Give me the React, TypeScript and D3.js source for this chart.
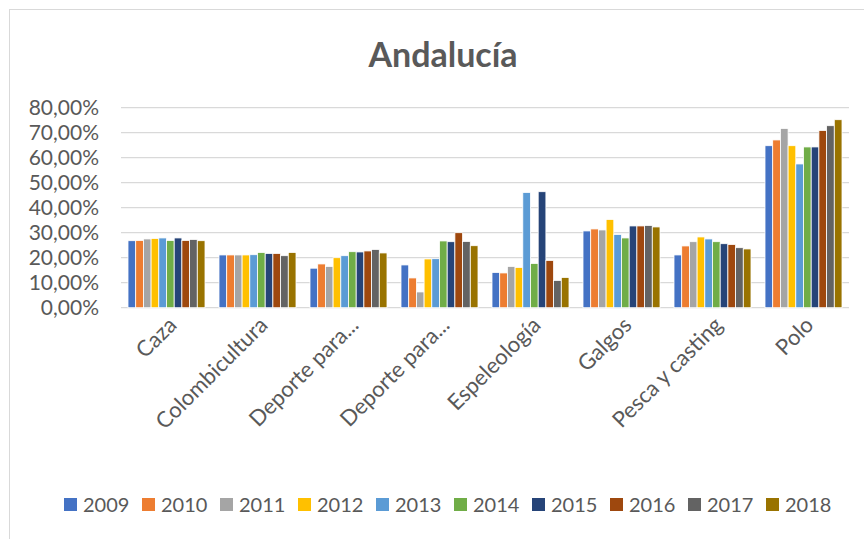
import React from "react";
import * as d3 from "d3";

const categories = ["Caza", "Colombicultura", "Deporte para...", "Deporte para...", "Espeleología", "Galgos", "Pesca y casting", "Polo"];
const years = ["2009", "2010", "2011", "2012", "2013", "2014", "2015", "2016", "2017", "2018"];
const colors = ["#4472C4", "#ED7D31", "#A5A5A5", "#FFC000", "#5B9BD5", "#70AD47", "#264478", "#9E480E", "#636363", "#997300"];

// values in percent, one array per category (2009..2018)
const caza = [26.8, 26.9, 27.5, 27.7, 27.9, 26.9, 27.9, 26.9, 27.3, 26.8];
const colombicultura = [21.1, 21.1, 21.1, 21.1, 21.2, 22.1, 21.7, 21.7, 20.8, 22.1];
const deporte1 = [15.8, 17.5, 16.5, 20.0, 20.8, 22.4, 22.3, 22.7, 23.3, 21.9];
const deporte2 = [17.1, 11.9, 6.3, 19.5, 19.6, 26.7, 26.4, 30.0, 26.5, 24.8];
const espeleologia = [14.1, 13.9, 16.5, 16.1, 46.1, 17.7, 46.4, 18.9, 10.9, 12.1];
const galgos = [30.7, 31.5, 31.1, 35.3, 29.3, 27.9, 32.7, 32.7, 32.9, 32.3];
const pesca = [21.1, 24.7, 26.4, 28.3, 27.5, 26.4, 25.6, 25.3, 24.0, 23.5];
const polo = [64.8, 67.1, 71.7, 64.8, 57.5, 64.3, 64.3, 70.9, 72.8, 75.2];
const values = [caza, colombicultura, deporte1, deporte2, espeleologia, galgos, pesca, polo];
const yTicks = [0, 10, 20, 30, 40, 50, 60, 70, 80];

const W = 864;
const H = 539;
const FONT = "Lato, 'Liberation Sans', sans-serif";
const TXT = "#595959";

export default function App() {
  const left = 121, right = 849, top = 107.7, bottom = 307.7;
  const x0 = d3.scaleBand<number>().domain(d3.range(categories.length)).range([left, right]).paddingInner(0.154).paddingOuter(0.077);
  const x1 = d3.scaleBand<number>().domain(d3.range(years.length)).range([0, x0.bandwidth()]).padding(0);
  const y = d3.scaleLinear().domain([0, 80]).range([bottom, top]);
  const xc = d3.scaleBand<number>().domain(d3.range(categories.length)).range([left, right]);
  const fmt = (v: number) => v.toFixed(2).replace(".", ",") + "%";
  const legendStart = 64;
  const legendStep = 78;

  return (
    <svg width={W} height={H} style={{ position: "absolute", left: 0, top: 0, background: "#fff" }}>
      <rect x={9.5} y={9.5} width={W + 20} height={H + 20} fill="#fff" stroke="#d9d9d9" strokeWidth={1} />
      <text x={443} y={67} textAnchor="middle" fontFamily={FONT} fontWeight="bold" fontSize={34} fill={TXT}>Andalucía</text>
      {yTicks.map((t) => (
        <g key={t}>
          <line x1={left} x2={right} y1={y(t)} y2={y(t)} stroke="#d9d9d9" strokeWidth={1.2} />
          <text x={99} y={y(t)} dy="0.36em" textAnchor="end" fontFamily={FONT} fontSize={21} fill={TXT}>{fmt(t)}</text>
        </g>
      ))}
      {values.map((arr, ci) => (
        <g key={ci} transform={`translate(${x0(ci)},0)`}>
          {arr.map((v, si) => (
            <rect key={si} x={x1(si)} y={y(v)} width={x1.bandwidth()} height={y(0) - y(v)} fill={colors[si]} stroke="#fff" strokeWidth={0.8} />
          ))}
        </g>
      ))}
      {categories.map((c, ci) => {
        const cx = (xc(ci) as number) + xc.bandwidth() / 2;
        return (
          <text key={ci} transform={`translate(${cx + 6},${321}) rotate(-45)`} textAnchor="end" dy="0.35em" fontFamily={FONT} fontSize={22} fill={TXT}>{c}</text>
        );
      })}
      {years.map((yr, i) => (
        <g key={yr} transform={`translate(${legendStart + i * legendStep},0)`}>
          <rect x={0} y={498} width={13} height={13} fill={colors[i]} />
          <text x={19} y={504.5} dy="0.36em" fontFamily={FONT} fontSize={20} fill={TXT}>{yr}</text>
        </g>
      ))}
    </svg>
  );
}
